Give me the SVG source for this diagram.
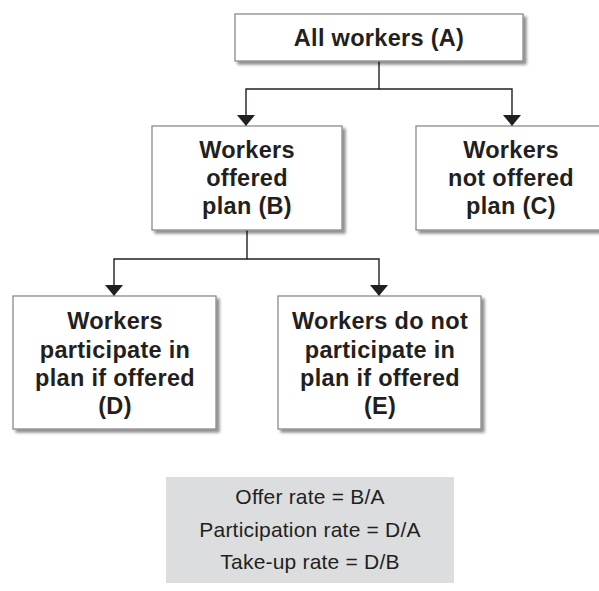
<svg xmlns="http://www.w3.org/2000/svg" width="599" height="591" viewBox="0 0 599 591">
  <style>
    .box { fill: #ffffff; stroke: #8a8a8a; stroke-width: 1.3; }
    .node text { font-family: "Liberation Sans", Arial, sans-serif; font-weight: bold; font-size: 23.5px; letter-spacing: 0.3px; fill: #231f20; text-anchor: middle; }
    .conn { fill: none; stroke: #231f20; stroke-width: 1.4; }
    .legend text { font-family: "Liberation Sans", Arial, sans-serif; font-size: 21px; letter-spacing: 0.2px; fill: #231f20; text-anchor: middle; }
  </style>
  <defs>
    <filter id="shadow" x="-10%" y="-10%" width="130%" height="130%">
      <feGaussianBlur in="SourceAlpha" stdDeviation="1.8"/>
      <feOffset dx="2.5" dy="3" result="blur"/>
      <feComponentTransfer><feFuncA type="linear" slope="0.45"/></feComponentTransfer>
      <feMerge><feMergeNode/><feMergeNode in="SourceGraphic"/></feMerge>
    </filter>
    <marker id="arrow" markerWidth="11" markerHeight="18" refX="11" refY="9" orient="auto" markerUnits="userSpaceOnUse">
      <path d="M0,0 L11,9 L0,18 Z" fill="#231f20"/>
    </marker>
  </defs>

  <g id="connectors">
    <path class="conn" d="M379,61 V89 H246 V126" marker-end="url(#arrow)"/>
    <path class="conn" d="M379,89 H512 V126" marker-end="url(#arrow)"/>
    <path class="conn" d="M247,230 V259 H114 V296" marker-end="url(#arrow)"/>
    <path class="conn" d="M247,259 H379 V296" marker-end="url(#arrow)"/>
  </g>

  <g id="nodeA" class="node">
    <rect class="box" x="235" y="14" width="288" height="47" filter="url(#shadow)"/>
    <text x="379" y="46">All workers (A)</text>
  </g>

  <g id="nodeB" class="node">
    <rect class="box" x="152" y="126" width="190" height="104" filter="url(#shadow)"/>
    <text x="247" y="158">Workers</text>
    <text x="247" y="186">offered</text>
    <text x="247" y="214">plan (B)</text>
  </g>

  <g id="nodeC" class="node">
    <rect class="box" x="416" y="126" width="192" height="104" filter="url(#shadow)"/>
    <text x="511" y="158">Workers</text>
    <text x="511" y="186">not offered</text>
    <text x="511" y="214">plan (C)</text>
  </g>

  <g id="nodeD" class="node">
    <rect class="box" x="13" y="296" width="203" height="133" filter="url(#shadow)"/>
    <text x="115" y="329">Workers</text>
    <text x="115" y="358">participate in</text>
    <text x="115" y="386">plan if offered</text>
    <text x="115" y="414">(D)</text>
  </g>

  <g id="nodeE" class="node">
    <rect class="box" x="278" y="296" width="203" height="133" filter="url(#shadow)"/>
    <text x="380" y="329">Workers do not</text>
    <text x="380" y="358">participate in</text>
    <text x="380" y="386">plan if offered</text>
    <text x="380" y="414">(E)</text>
  </g>

  <g id="legend" class="legend">
    <rect x="166" y="477" width="288" height="106" fill="#dcdddf"/>
    <text x="310" y="504">Offer rate = B/A</text>
    <text x="310" y="537">Participation rate = D/A</text>
    <text x="310" y="569">Take-up rate = D/B</text>
  </g>
</svg>
